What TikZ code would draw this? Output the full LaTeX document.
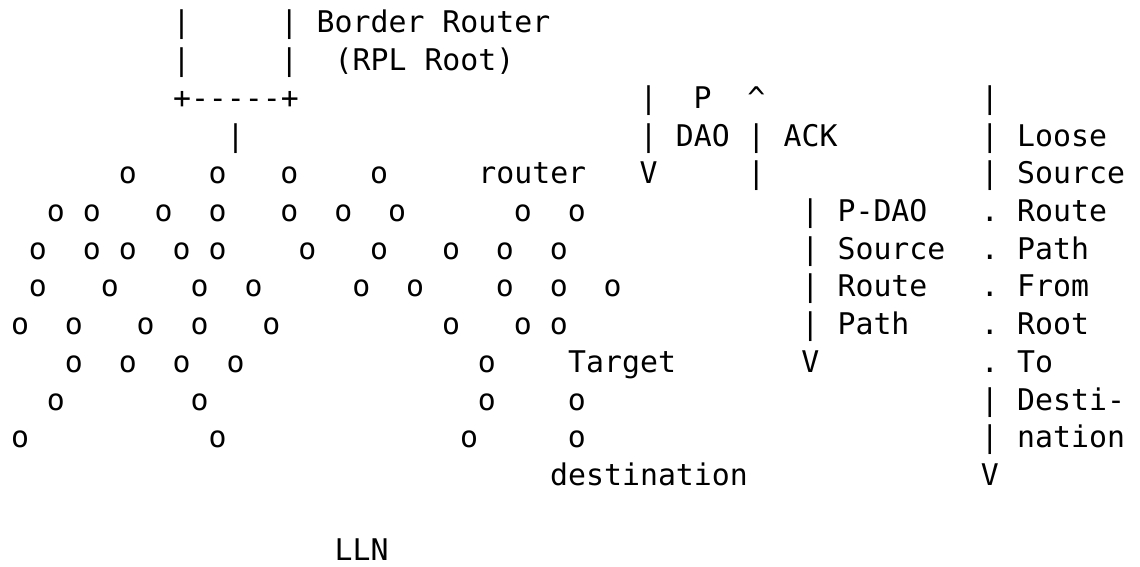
\documentclass[tikz,border=0pt]{standalone}
\usepackage{fontspec}
\setmonofont{DejaVu Sans Mono}
\usetikzlibrary{positioning}
\newcommand{\asciifont}{\ttfamily\fontsize{14.92pt}{18pt}\selectfont}

\begin{document}
\begin{tikzpicture}[
    x=8.98pt, y=-18.85pt,
    txt/.style={font=\asciifont, inner sep=0pt, anchor=base west},
    chr/.style={font=\asciifont, inner sep=0pt, anchor=base}
]
\useasboundingbox (-1.1136, 0.1247) rectangle (62.36, 15.138);

% Border router box
\node[chr] (boxL1) at (9,1) {|};
\node[chr] (boxR1) at (15,1) {|};
\node[txt] (brname) at (16.5,1) {Border Router};
\node[chr] (boxL2) at (9,2) {|};
\node[chr] (boxR2) at (15,2) {|};
\node[txt] (rplroot) at (17.5,2) {(RPL Root)};
\node[txt] (boxbot) at (8.5,3) {+-----+};
\node[chr] (uplink) at (12,4) {|};

% P-DAO / ACK exchange
\node[chr] (pdaoA) at (35,3) {|};
\node[chr] (pchar) at (38,3) {P};
\node[chr] (ackA) at (41,3) {\textasciicircum};
\node[chr] (pdaoB) at (35,4) {|};
\node[txt] (daotxt) at (36.5,4) {DAO};
\node[chr] (ackB) at (41,4) {|};
\node[txt] (acktxt) at (42.5,4) {ACK};
\node[chr] (pdaoV) at (35,5) {V};
\node[chr] (ackC) at (41,5) {|};

% Loose source route path
\node[chr] (lsA) at (54,3) {|};
\node[chr] (lsB) at (54,4) {|};
\node[txt] (loose) at (55.5,4) {Loose};
\node[chr] (lsC) at (54,5) {|};
\node[txt] (lssrc) at (55.5,5) {Source};
\node[chr] (lsD) at (54,6) {.};
\node[txt] (lsroute) at (55.5,6) {Route};
\node[chr] (lsE) at (54,7) {.};
\node[txt] (lspath) at (55.5,7) {Path};
\node[chr] (lsF) at (54,8) {.};
\node[txt] (lsfrom) at (55.5,8) {From};
\node[chr] (lsG) at (54,9) {.};
\node[txt] (lsroot) at (55.5,9) {Root};
\node[chr] (lsH) at (54,10) {.};
\node[txt] (lsto) at (55.5,10) {To};
\node[chr] (lsI) at (54,11) {|};
\node[txt] (lsdest) at (55.5,11) {Desti-};
\node[chr] (lsJ) at (54,12) {|};
\node[txt] (lsnat) at (55.5,12) {nation};
\node[chr] (lsV) at (54,13) {V};

% P-DAO source route path
\node[chr] (srA) at (44,6) {|};
\node[txt] (srpdao) at (45.5,6) {P-DAO};
\node[chr] (srB) at (44,7) {|};
\node[txt] (srsrc) at (45.5,7) {Source};
\node[chr] (srC) at (44,8) {|};
\node[txt] (srroute) at (45.5,8) {Route};
\node[chr] (srD) at (44,9) {|};
\node[txt] (srpath) at (45.5,9) {Path};
\node[chr] (srV) at (44,10) {V};

% LLN nodes
\foreach \c in {6,11,15,20} \node[chr] (r5o\c) at (\c,5) {o};
\foreach \c in {2,4,8,11,15,18,21,28,31} \node[chr] (r6o\c) at (\c,6) {o};
\foreach \c in {1,4,6,9,11,16,20,24,27,30} \node[chr] (r7o\c) at (\c,7) {o};
\foreach \c in {1,5,10,13,19,22,27,30,33} \node[chr] (r8o\c) at (\c,8) {o};
\foreach \c in {0,3,7,10,14,24,28,30} \node[chr] (r9o\c) at (\c,9) {o};
\foreach \c in {3,6,9,12,26} \node[chr] (r10o\c) at (\c,10) {o};
\foreach \c in {2,10,26,31} \node[chr] (r11o\c) at (\c,11) {o};
\foreach \c in {0,11,25,31} \node[chr] (r12o\c) at (\c,12) {o};

% Labels
\node[txt] (router) at (25.5,5) {router};
\node[txt] (target) at (30.5,10) {Target};
\node[txt] (dest) at (29.5,13) {destination};
\node[txt] (lln) at (17.5,15) {LLN};

\end{tikzpicture}
\end{document}
